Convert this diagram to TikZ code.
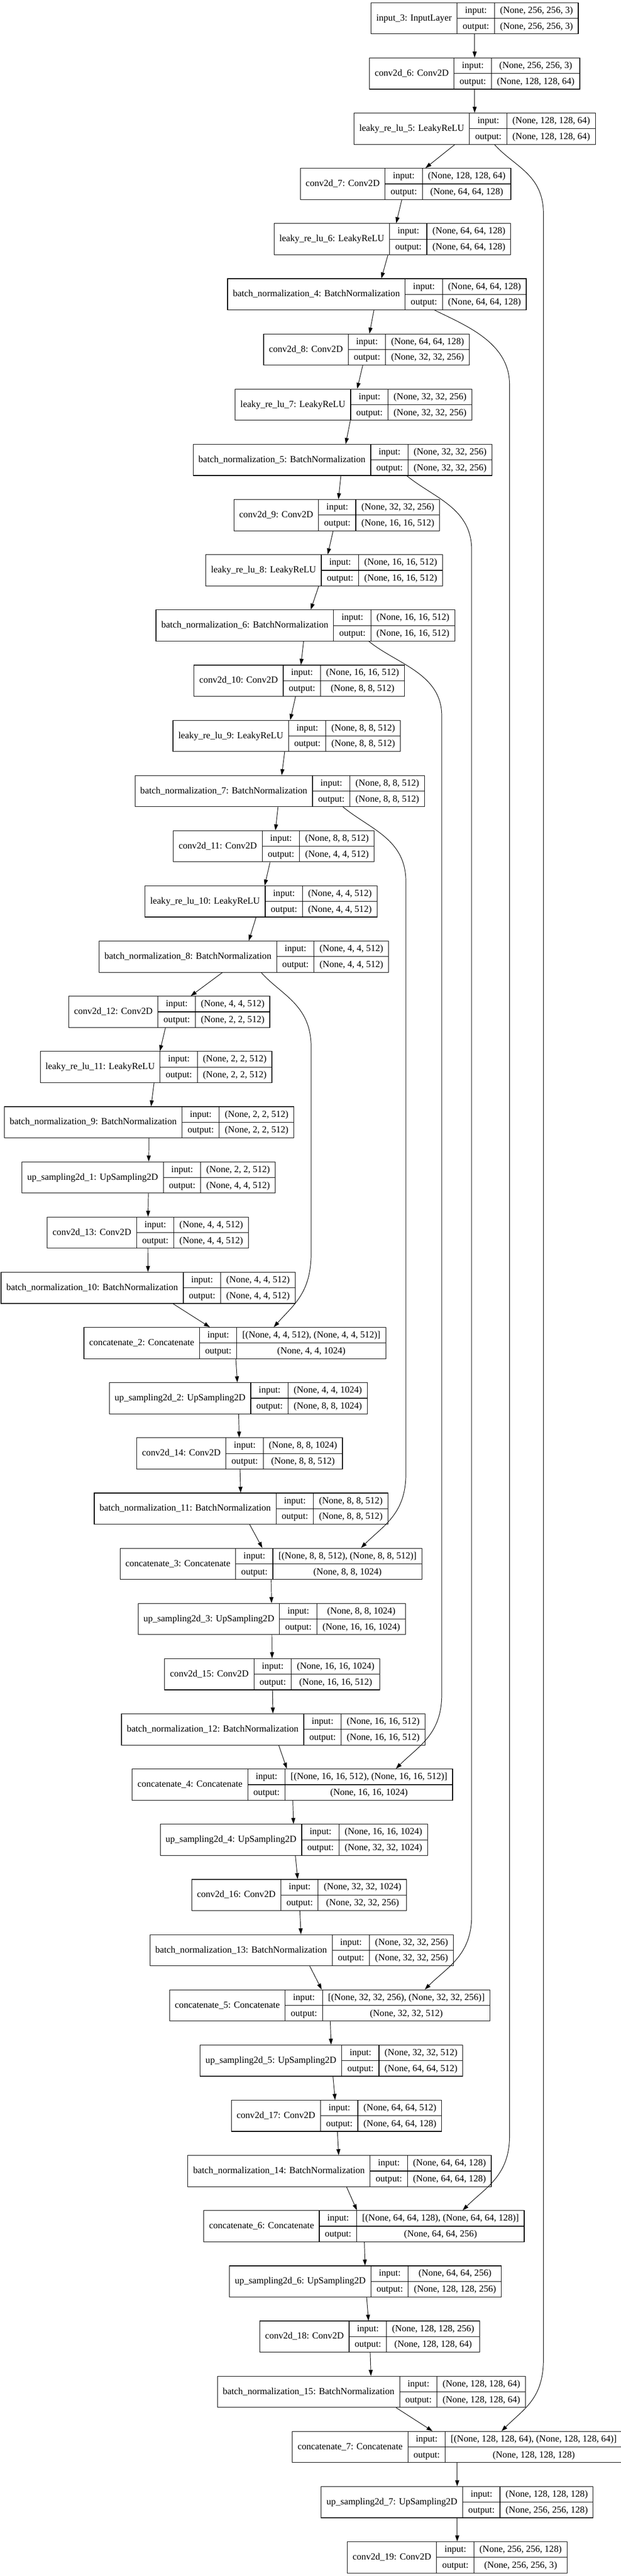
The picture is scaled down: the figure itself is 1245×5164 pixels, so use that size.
\documentclass[tikz,border=0pt]{standalone}
\usepackage{fontspec}
\setmainfont{Liberation Serif}
\usepackage{tikz}
\usetikzlibrary{positioning, calc, arrows.meta}
\tikzset{>={Triangle[length=9pt,width=6pt]}}
\setlength{\arrayrulewidth}{0.9pt}
\newcommand{\rowstrut}{\rule[-7.5pt]{0pt}{23pt}}
\newcommand{\layerrec}[3]{%
  \begin{tabular}{@{\hspace{8pt}}c@{\hspace{8pt}}|@{}c@{}}
    #1 &
    \begin{tabular}{@{\hspace{8pt}}c@{\hspace{8pt}}|@{\hspace{8pt}}c@{\hspace{8pt}}}
      \rowstrut input: & #2 \\ \hline
      \rowstrut output: & #3
    \end{tabular}
  \end{tabular}}

\begin{document}
\begin{tikzpicture}[x=0.75pt, y=-0.75pt,
    layer/.style={draw, line width=0.9pt, inner sep=0pt, fill=white, font=\fontsize{14pt}{17pt}\selectfont},
    arr/.style={->, line width=0.75pt}]
  \useasboundingbox (0,0) rectangle (1245,5164);

  % Encoder
  \node[layer] (in3) at (952, 36.75) {\layerrec{input\_3: InputLayer}{(None, 256, 256, 3)}{(None, 256, 256, 3)}};
  \node[layer] (c6) at (952, 147.4) {\layerrec{conv2d\_6: Conv2D}{(None, 256, 256, 3)}{(None, 128, 128, 64)}};
  \node[layer] (lr5) at (952, 258.05) {\layerrec{leaky\_re\_lu\_5: LeakyReLU}{(None, 128, 128, 64)}{(None, 128, 128, 64)}};
  \node[layer] (c7) at (813.5, 368.7) {\layerrec{conv2d\_7: Conv2D}{(None, 128, 128, 64)}{(None, 64, 64, 128)}};
  \node[layer] (lr6) at (787, 479.35) {\layerrec{leaky\_re\_lu\_6: LeakyReLU}{(None, 64, 64, 128)}{(None, 64, 64, 128)}};
  \node[layer] (bn4) at (756, 590) {\layerrec{batch\_normalization\_4: BatchNormalization}{(None, 64, 64, 128)}{(None, 64, 64, 128)}};
  \node[layer] (c8) at (735, 700.65) {\layerrec{conv2d\_8: Conv2D}{(None, 64, 64, 128)}{(None, 32, 32, 256)}};
  \node[layer] (lr7) at (709, 811.3) {\layerrec{leaky\_re\_lu\_7: LeakyReLU}{(None, 32, 32, 256)}{(None, 32, 32, 256)}};
  \node[layer] (bn5) at (687, 921.95) {\layerrec{batch\_normalization\_5: BatchNormalization}{(None, 32, 32, 256)}{(None, 32, 32, 256)}};
  \node[layer] (c9) at (675.5, 1032.6) {\layerrec{conv2d\_9: Conv2D}{(None, 32, 32, 256)}{(None, 16, 16, 512)}};
  \node[layer] (lr8) at (650, 1143.25) {\layerrec{leaky\_re\_lu\_8: LeakyReLU}{(None, 16, 16, 512)}{(None, 16, 16, 512)}};
  \node[layer] (bn6) at (612.5, 1253.9) {\layerrec{batch\_normalization\_6: BatchNormalization}{(None, 16, 16, 512)}{(None, 16, 16, 512)}};
  \node[layer] (c10) at (600, 1364.55) {\layerrec{conv2d\_10: Conv2D}{(None, 16, 16, 512)}{(None, 8, 8, 512)}};
  \node[layer] (lr9) at (575, 1475.2) {\layerrec{leaky\_re\_lu\_9: LeakyReLU}{(None, 8, 8, 512)}{(None, 8, 8, 512)}};
  \node[layer] (bn7) at (561, 1585.85) {\layerrec{batch\_normalization\_7: BatchNormalization}{(None, 8, 8, 512)}{(None, 8, 8, 512)}};
  \node[layer] (c11) at (549, 1696.5) {\layerrec{conv2d\_11: Conv2D}{(None, 8, 8, 512)}{(None, 4, 4, 512)}};
  \node[layer] (lr10) at (523.5, 1807.15) {\layerrec{leaky\_re\_lu\_10: LeakyReLU}{(None, 4, 4, 512)}{(None, 4, 4, 512)}};
  \node[layer] (bn8) at (489, 1917.8) {\layerrec{batch\_normalization\_8: BatchNormalization}{(None, 4, 4, 512)}{(None, 4, 4, 512)}};
  \node[layer] (c12) at (339.5, 2028.45) {\layerrec{conv2d\_12: Conv2D}{(None, 4, 4, 512)}{(None, 2, 2, 512)}};
  \node[layer] (lr11) at (313, 2139.1) {\layerrec{leaky\_re\_lu\_11: LeakyReLU}{(None, 2, 2, 512)}{(None, 2, 2, 512)}};
  \node[layer] (bn9) at (299, 2249.75) {\layerrec{batch\_normalization\_9: BatchNormalization}{(None, 2, 2, 512)}{(None, 2, 2, 512)}};

  % Decoder
  \node[layer] (up1) at (298, 2360.4) {\layerrec{up\_sampling2d\_1: UpSampling2D}{(None, 2, 2, 512)}{(None, 4, 4, 512)}};
  \node[layer] (c13) at (296.5, 2471.05) {\layerrec{conv2d\_13: Conv2D}{(None, 4, 4, 512)}{(None, 4, 4, 512)}};
  \node[layer] (bn10) at (297, 2581.7) {\layerrec{batch\_normalization\_10: BatchNormalization}{(None, 4, 4, 512)}{(None, 4, 4, 512)}};
  \node[layer] (cat2) at (471, 2692.35) {\layerrec{concatenate\_2: Concatenate}{[(None, 4, 4, 512), (None, 4, 4, 512)]}{(None, 4, 4, 1024)}};
  \node[layer] (up2) at (478, 2803) {\layerrec{up\_sampling2d\_2: UpSampling2D}{(None, 4, 4, 1024)}{(None, 8, 8, 1024)}};
  \node[layer] (c14) at (480.5, 2913.65) {\layerrec{conv2d\_14: Conv2D}{(None, 8, 8, 1024)}{(None, 8, 8, 512)}};
  \node[layer] (bn11) at (483.5, 3024.3) {\layerrec{batch\_normalization\_11: BatchNormalization}{(None, 8, 8, 512)}{(None, 8, 8, 512)}};
  \node[layer] (cat3) at (543.5, 3134.95) {\layerrec{concatenate\_3: Concatenate}{[(None, 8, 8, 512), (None, 8, 8, 512)]}{(None, 8, 8, 1024)}};
  \node[layer] (up3) at (545, 3245.6) {\layerrec{up\_sampling2d\_3: UpSampling2D}{(None, 8, 8, 1024)}{(None, 16, 16, 1024)}};
  \node[layer] (c15) at (546, 3356.25) {\layerrec{conv2d\_15: Conv2D}{(None, 16, 16, 1024)}{(None, 16, 16, 512)}};
  \node[layer] (bn12) at (548, 3466.9) {\layerrec{batch\_normalization\_12: BatchNormalization}{(None, 16, 16, 512)}{(None, 16, 16, 512)}};
  \node[layer] (cat4) at (586.5, 3577.55) {\layerrec{concatenate\_4: Concatenate}{[(None, 16, 16, 512), (None, 16, 16, 512)]}{(None, 16, 16, 1024)}};
  \node[layer] (up4) at (589.5, 3688.2) {\layerrec{up\_sampling2d\_4: UpSampling2D}{(None, 16, 16, 1024)}{(None, 32, 32, 1024)}};
  \node[layer] (c16) at (600, 3798.85) {\layerrec{conv2d\_16: Conv2D}{(None, 32, 32, 1024)}{(None, 32, 32, 256)}};
  \node[layer] (bn13) at (605, 3909.5) {\layerrec{batch\_normalization\_13: BatchNormalization}{(None, 32, 32, 256)}{(None, 32, 32, 256)}};
  \node[layer] (cat5) at (661.5, 4020.15) {\layerrec{concatenate\_5: Concatenate}{[(None, 32, 32, 256), (None, 32, 32, 256)]}{(None, 32, 32, 512)}};
  \node[layer] (up5) at (665, 4130.8) {\layerrec{up\_sampling2d\_5: UpSampling2D}{(None, 32, 32, 512)}{(None, 64, 64, 512)}};
  \node[layer] (c17) at (675, 4241.45) {\layerrec{conv2d\_17: Conv2D}{(None, 64, 64, 512)}{(None, 64, 64, 128)}};
  \node[layer] (bn14) at (681, 4352.1) {\layerrec{batch\_normalization\_14: BatchNormalization}{(None, 64, 64, 128)}{(None, 64, 64, 128)}};
  \node[layer] (cat6) at (730, 4462.75) {\layerrec{concatenate\_6: Concatenate}{[(None, 64, 64, 128), (None, 64, 64, 128)]}{(None, 64, 64, 256)}};
  \node[layer] (up6) at (733, 4573.4) {\layerrec{up\_sampling2d\_6: UpSampling2D}{(None, 64, 64, 256)}{(None, 128, 128, 256)}};
  \node[layer] (c18) at (741.5, 4684.05) {\layerrec{conv2d\_18: Conv2D}{(None, 128, 128, 256)}{(None, 128, 128, 64)}};
  \node[layer] (bn15) at (745, 4794.7) {\layerrec{batch\_normalization\_15: BatchNormalization}{(None, 128, 128, 64)}{(None, 128, 128, 64)}};
  \node[layer] (cat7) at (917, 4905.35) {\layerrec{concatenate\_7: Concatenate}{[(None, 128, 128, 64), (None, 128, 128, 64)]}{(None, 128, 128, 128)}};
  \node[layer] (up7) at (917, 5016) {\layerrec{up\_sampling2d\_7: UpSampling2D}{(None, 128, 128, 128)}{(None, 256, 256, 128)}};
  \node[layer] (c19) at (917, 5126.65) {\layerrec{conv2d\_19: Conv2D}{(None, 256, 256, 128)}{(None, 256, 256, 3)}};

  % Main chain
  \foreach \a/\b in {in3/c6, c6/lr5, lr5/c7, c7/lr6, lr6/bn4, bn4/c8, c8/lr7, lr7/bn5, bn5/c9, c9/lr8,
                     lr8/bn6, bn6/c10, c10/lr9, lr9/bn7, bn7/c11, c11/lr10, lr10/bn8, bn8/c12, c12/lr11,
                     lr11/bn9, bn9/up1, up1/c13, c13/bn10, bn10/cat2, cat2/up2, up2/c14, c14/bn11,
                     bn11/cat3, cat3/up3, up3/c15, c15/bn12, bn12/cat4, cat4/up4, up4/c16, c16/bn13,
                     bn13/cat5, cat5/up5, up5/c17, c17/bn14, bn14/cat6, cat6/up6, up6/c18, c18/bn15,
                     bn15/cat7, cat7/up7, up7/c19}
    \draw[arr] (\a) -- (\b);

  % Skip connections
  \coordinate (sk1a) at (1090, 429);  \coordinate (sk1b) at (1090, 4729);
  \coordinate (sk2a) at (1022, 771);  \coordinate (sk2b) at (1022, 4282);
  \coordinate (sk3a) at (946, 1103);  \coordinate (sk3b) at (946, 3840);
  \coordinate (sk4a) at (886, 1435);  \coordinate (sk4b) at (886, 3397);
  \coordinate (sk5a) at (814, 1767);  \coordinate (sk5b) at (814, 2955);
  \coordinate (sk6a) at (624, 2099);  \coordinate (sk6b) at (624, 2512);

  \draw[arr] ($(lr5.south)+(40,0)$) .. controls +(40,45) and +(0,-80) .. (sk1a) -- (sk1b)
             .. controls +(0,80) and +(45,-45) .. ($(cat7.north)+(89,0)$);
  \draw[arr] ($(bn4.south)+(116,0)$) .. controls +(60,30) and +(0,-85) .. (sk2a) -- (sk2b)
             .. controls +(0,80) and +(45,-45) .. ($(cat6.north)+(198,0)$);
  \draw[arr] ($(bn5.south)+(129,0)$) .. controls +(55,45) and +(0,-85) .. (sk3a) -- (sk3b)
             .. controls +(0,80) and +(45,-45) .. ($(cat5.north)+(190.5,0)$);
  \draw[arr] ($(bn6.south)+(127.5,0)$) .. controls +(55,45) and +(0,-85) .. (sk4a) -- (sk4b)
             .. controls +(0,80) and +(45,-45) .. ($(cat4.north)+(207.5,0)$);
  \draw[arr] ($(bn7.south)+(127,0)$) .. controls +(55,45) and +(0,-85) .. (sk5a) -- (sk5b)
             .. controls +(0,80) and +(45,-45) .. ($(cat3.north)+(180.5,0)$);
  \draw[arr] ($(bn8.south)+(35,0)$) .. controls +(40,45) and +(0,-85) .. (sk6a) -- (sk6b)
             .. controls +(0,80) and +(40,-45) .. ($(cat2.north)+(78,0)$);
\end{tikzpicture}
\end{document}
